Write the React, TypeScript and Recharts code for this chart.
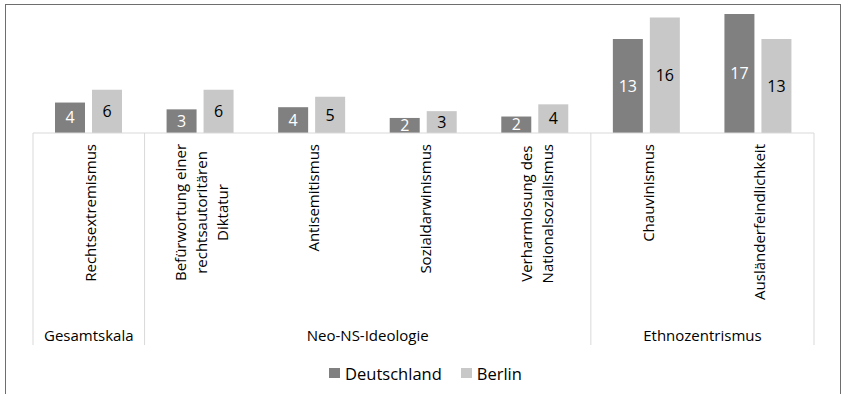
import React from 'react';
import { BarChart, Bar, XAxis, YAxis, Legend, LabelList } from 'recharts';

// ---- data ----
const categories = [
  'Rechtsextremismus',
  'Befürwortung einer\nrechtsautoritären\nDiktatur',
  'Antisemitismus',
  'Sozialdarwinismus',
  'Verharmlosung des\nNationalsozialismus',
  'Chauvinismus',
  'Ausländerfeindlichkeit',
];
const groupOf = [
  'Gesamtskala',
  'Neo-NS-Ideologie',
  'Neo-NS-Ideologie',
  'Neo-NS-Ideologie',
  'Neo-NS-Ideologie',
  'Ethnozentrismus',
  'Ethnozentrismus',
];
const deutschland = [4.25, 3.3, 3.6, 2.1, 2.3, 13.1, 16.6];
const berlin = [6.05, 6.05, 5.05, 3.05, 4.0, 16.1, 13.1];
const seriesNames = ['Deutschland', 'Berlin'];
const yDomain = [0, 18];

const data = categories.map((c, i) => ({
  category: c,
  group: groupOf[i],
  Deutschland: deutschland[i],
  Berlin: berlin[i],
}));

// ---- style / layout ----
const FONT = '"Open Sans", sans-serif';
const W = 846;
const H = 394;
const MARGIN = { top: 4, right: 32, bottom: 0, left: 33 };
const BAND = (W - MARGIN.left - MARGIN.right) / categories.length;
const COLORS = ['#808080', '#c8c8c8'];
const TEXT = '#000000';
const GRID = '#d9d9d9';

let ctx: CanvasRenderingContext2D | null = null;
function textWidth(t: string, size: number): number {
  if (!ctx) ctx = document.createElement('canvas').getContext('2d');
  if (!ctx) return t.length * size * 0.55;
  ctx.font = `${size}px "Open Sans"`;
  return ctx.measureText(t).width;
}

const CategoryTick = (props: any) => {
  const { x, y, payload, index } = props;
  const i = typeof index === 'number' ? index : payload.index;
  const half = BAND / 2;
  const lines = String(payload.value).split('\n');
  const size = 15;
  const lh = 21;
  const maxW = Math.max(...lines.map((l) => textWidth(l, size)));
  const cy = y + 11 + maxW / 2;
  const g = groupOf[i];
  const isFirst = i === 0 || groupOf[i - 1] !== g;
  const isLast = i === categories.length - 1;
  const count = groupOf.filter((k) => k === g).length;
  return (
    <g>
      {lines.map((l, k) => {
        const lx = x + 1 + (k - (lines.length - 1) / 2) * lh;
        return (
          <text
            key={k}
            transform={`translate(${lx},${cy}) rotate(-90)`}
            textAnchor="middle"
            dominantBaseline="central"
            fontFamily={FONT}
            fontSize={size}
            fill={TEXT}
          >
            {l}
          </text>
        );
      })}
      {isFirst && (
        <line x1={x - half} x2={x - half} y1={y} y2={y + 212} stroke={GRID} strokeWidth={1} />
      )}
      {isFirst && (
        <text
          x={x - half + (count * BAND) / 2}
          y={y + 202}
          textAnchor="middle"
          dominantBaseline="central"
          fontFamily={FONT}
          fontSize={15}
          fill={TEXT}
        >
          {g}
        </text>
      )}
      {isLast && (
        <line x1={x + half} x2={x + half} y1={y} y2={y + 212} stroke={GRID} strokeWidth={1} />
      )}
    </g>
  );
};

const LegendContent = (props: any) => {
  const payload = [...(props.payload || [])].sort(
    (a: any, b: any) => seriesNames.indexOf(a.value) - seriesNames.indexOf(b.value)
  );
  return (
    <div
      style={{
        display: 'flex',
        justifyContent: 'center',
        alignItems: 'center',
        height: 30,
        fontFamily: FONT,
        fontSize: 16.5,
        color: TEXT,
        paddingLeft: 4,
      }}
    >
      {payload.map((p: any, i: number) => (
        <div key={p.value} style={{ display: 'flex', alignItems: 'center', marginLeft: i ? 19 : 0 }}>
          <span
            style={{ display: 'inline-block', width: 11, height: 10, background: p.color, marginRight: 5 }}
          />
          <span>{p.value}</span>
        </div>
      ))}
    </div>
  );
};

const fmt = (v: any) => Math.round(Number(v));

export default function App() {
  return (
    <div
      style={{
        position: 'absolute',
        left: 0,
        top: 0,
        width: W,
        height: H,
        overflow: 'hidden',
        background: '#ffffff',
      }}
    >
      <div
        style={{
          position: 'absolute',
          left: 5,
          top: 4,
          width: 836,
          height: 420,
          border: '1px solid #6e6e6e',
          boxSizing: 'border-box',
        }}
      />
      <div style={{ position: 'absolute', left: 0, top: 0 }}>
        <BarChart
          width={W}
          height={H}
          data={data}
          margin={MARGIN}
          barSize={30}
          barGap={7}
          style={{ fontFamily: FONT }}
        >
          <XAxis
            dataKey="category"
            interval={0}
            tickLine={false}
            tickSize={0}
            tickMargin={0}
            height={231}
            axisLine={{ stroke: GRID }}
            tick={<CategoryTick />}
          />
          <YAxis hide domain={yDomain} />
          <Legend
            verticalAlign="bottom"
            wrapperStyle={{ bottom: 6 }}
            content={<LegendContent />}
          />
          <Bar dataKey={seriesNames[0]} name={seriesNames[0]} fill={COLORS[0]} isAnimationActive={false}>
            <LabelList
              dataKey={seriesNames[0]}
              position="center"
              formatter={fmt}
              fill="#ffffff"
              fontSize={16}
              fontFamily={FONT}
            />
          </Bar>
          <Bar dataKey={seriesNames[1]} name={seriesNames[1]} fill={COLORS[1]} isAnimationActive={false}>
            <LabelList
              dataKey={seriesNames[1]}
              position="center"
              formatter={fmt}
              fill="#000000"
              fontSize={16}
              fontFamily={FONT}
            />
          </Bar>
        </BarChart>
      </div>
    </div>
  );
}
